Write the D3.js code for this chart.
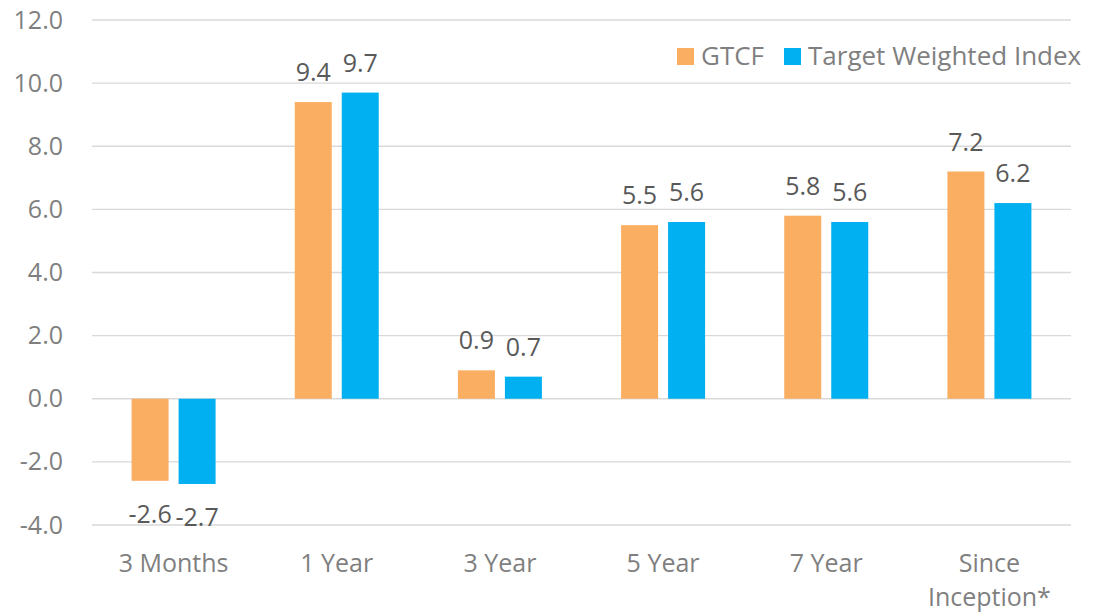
<!DOCTYPE html>
<html>
<head>
<meta charset="utf-8">
<script src="https://cdn.jsdelivr.net/npm/d3@7"></script>
<style>
	body { margin: 0; background: #fff; }
	text { font-family: "Open Sans", "Liberation Sans", sans-serif; }
</style>
</head>
<body>
<div id="chart"></div>
<script>
// chart data
var categories = ["3 Months", "1 Year", "3 Year", "5 Year", "7 Year", "Since Inception*"];
var seriesNames = ["GTCF", "Target Weighted Index"];
var gtcfValues = [-2.6, 9.4, 0.9, 5.5, 5.8, 7.2];
var indexValues = [-2.7, 9.7, 0.7, 5.6, 5.6, 6.2];
var yTicks = [-4, -2, 0, 2, 4, 6, 8, 10, 12];
var colors = ["#F9AE62", "#00B0F0"];

var width = 1101, height = 614;
var margin = { top: 20, right: 30, bottom: 89, left: 92 };
var fontSize = "25px";

// plain hyphen for negatives, like the source chart
var fmt = function(v) { return d3.format(".1f")(v).replace("\u2212", "-"); };

var svg = d3.select("#chart").append("svg")
	.attr("width", width)
	.attr("height", height);

var x = d3.scaleBand()
	.domain(categories)
	.range([margin.left, width - margin.right]);

var y = d3.scaleLinear()
	.domain([-4, 12])
	.range([height - margin.bottom, margin.top]);

// gridlines
svg.selectAll("line.grid").data(yTicks).enter().append("line")
	.attr("class", "grid")
	.attr("x1", margin.left)
	.attr("x2", width - margin.right)
	.attr("y1", function(d) { return y(d); })
	.attr("y2", function(d) { return y(d); })
	.attr("stroke", "#d9d9d9")
	.attr("stroke-width", 1.3);

// y axis labels
var yAxis = d3.axisLeft(y).tickValues(yTicks).tickFormat(fmt).tickSize(0).tickPadding(0);
var yg = svg.append("g").attr("transform", "translate(63,0)").call(yAxis);
yg.select(".domain").remove();
yg.selectAll("text")
	.attr("fill", "#7f7f7f")
	.style("font-family", "\"Open Sans\", sans-serif")
	.style("font-size", fontSize);

var barW = 37, gap = 10;
var rows = categories.map(function(c, i) {
	return [gtcfValues[i], indexValues[i]];
});

rows.forEach(function(vals, i) {
	var cx = x(categories[i]) + x.bandwidth() / 2;
	vals.forEach(function(v, s) {
		var bx = s === 0 ? cx - gap / 2 - barW : cx + gap / 2;
		svg.append("rect")
			.attr("x", bx)
			.attr("width", barW)
			.attr("y", Math.min(y(v), y(0)))
			.attr("height", Math.abs(y(v) - y(0)))
			.attr("fill", colors[s]);
		svg.append("text")
			.attr("x", bx + barW / 2)
			.attr("y", v >= 0 ? y(v) - 21 : y(v) + 42)
			.attr("text-anchor", "middle")
			.attr("fill", "#595959")
			.style("font-size", fontSize)
			.text(fmt(v));
	});
});

// x axis labels, wrap "Since Inception*"
categories.forEach(function(c) {
	var lines = c === "Since Inception*" ? ["Since", "Inception*"] : [c];
	var t = svg.append("text")
		.attr("x", x(c) + x.bandwidth() / 2)
		.attr("y", 572)
		.attr("text-anchor", "middle")
		.attr("fill", "#7f7f7f")
		.style("font-size", fontSize);
	lines.forEach(function(l, k) {
		t.append("tspan")
			.attr("x", x(c) + x.bandwidth() / 2)
			.attr("dy", k === 0 ? 0 : 34)
			.text(l);
	});
});

// legend
var legendX = [677, 784];
seriesNames.forEach(function(n, s) {
	svg.append("rect")
		.attr("x", legendX[s])
		.attr("y", 48)
		.attr("width", 17)
		.attr("height", 17)
		.attr("fill", colors[s]);
	svg.append("text")
		.attr("x", legendX[s] + 24)
		.attr("y", 65)
		.attr("fill", "#7f7f7f")
		.style("font-size", "26px")
		.text(n);
});
</script>
</body>
</html>
